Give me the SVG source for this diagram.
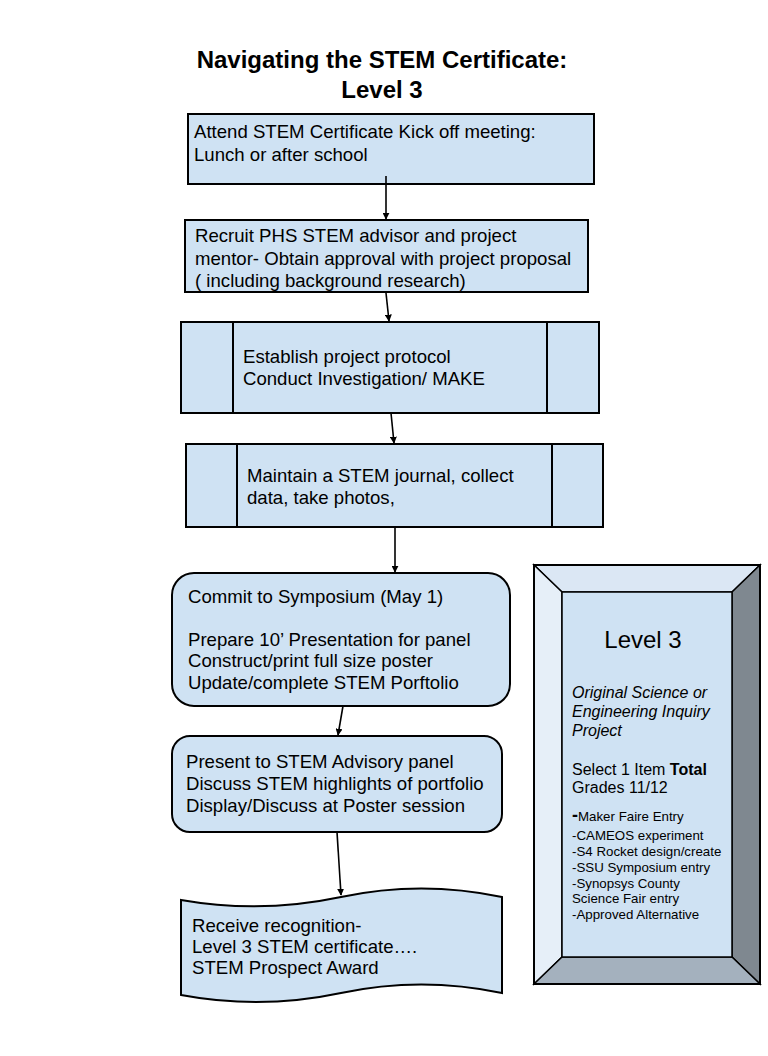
<svg xmlns="http://www.w3.org/2000/svg" width="768" height="1056" viewBox="0 0 768 1056">
<defs>
<marker id="ah" viewBox="0 0 10 10" refX="9" refY="5" markerWidth="7" markerHeight="7" orient="auto" markerUnits="userSpaceOnUse">
<path d="M0,0 L10,5 L0,10 Z" fill="#000"/>
</marker>
<style>
.box{fill:#cfe2f3;stroke:#000;stroke-width:2}
.t{font-family:"Liberation Sans",Arial,sans-serif;font-size:18.6px;fill:#000}
.title{font-family:"Liberation Sans",Arial,sans-serif;font-size:24px;font-weight:bold;fill:#000}
.s{font-family:"Liberation Sans",Arial,sans-serif;font-size:16px;fill:#000}
.xs{font-family:"Liberation Sans",Arial,sans-serif;font-size:13.3px;fill:#000}
.c{stroke:#000;stroke-width:1.6;fill:none;marker-end:url(#ah)}
</style>
</defs>
<rect width="768" height="1056" fill="#fff"/>
<g id="title">
<text class="title" x="382" y="68" text-anchor="middle">Navigating the STEM Certificate:</text>
<text class="title" x="382" y="98" text-anchor="middle">Level 3</text>
</g>
<g id="n1">
<rect class="box" x="188" y="114" width="406" height="70"/>
<text class="t" x="194" y="138">Attend STEM Certificate Kick off meeting:</text>
<text class="t" x="194" y="161">Lunch or after school</text>
</g>
<g id="n2">
<rect class="box" x="185" y="220" width="403" height="72"/>
<text class="t" x="195" y="242">Recruit PHS STEM advisor and project</text>
<text class="t" x="195" y="265">mentor- Obtain approval with project proposal</text>
<text class="t" x="195" y="287">( including background research)</text>
</g>
<g id="n3">
<rect class="box" x="181" y="322" width="418" height="91"/>
<line x1="233" y1="322" x2="233" y2="413" stroke="#000" stroke-width="2"/>
<line x1="547" y1="322" x2="547" y2="413" stroke="#000" stroke-width="2"/>
<text class="t" x="243" y="363">Establish project protocol</text>
<text class="t" x="243" y="385">Conduct Investigation/ MAKE</text>
</g>
<g id="n4">
<rect class="box" x="186" y="444" width="417" height="83"/>
<line x1="237" y1="444" x2="237" y2="527" stroke="#000" stroke-width="2"/>
<line x1="552" y1="444" x2="552" y2="527" stroke="#000" stroke-width="2"/>
<text class="t" x="247" y="482">Maintain a STEM journal, collect</text>
<text class="t" x="247" y="504">data, take photos,</text>
</g>
<g id="n5">
<rect class="box" x="172" y="573" width="338" height="133" rx="22" ry="22"/>
<text class="t" x="188" y="603">Commit to Symposium (May 1)</text>
<text class="t" x="188" y="646">Prepare 10’ Presentation for panel</text>
<text class="t" x="188" y="667">Construct/print full size poster</text>
<text class="t" x="188" y="689">Update/complete STEM Porftolio</text>
</g>
<g id="n6">
<rect class="box" x="172" y="736" width="330" height="96" rx="18" ry="18"/>
<text class="t" x="186" y="768">Present to STEM Advisory panel</text>
<text class="t" x="186" y="790">Discuss STEM highlights of portfolio</text>
<text class="t" x="186" y="812">Display/Discuss at Poster session</text>
</g>
<g id="n7">
<path class="box" d="M181,900 Q261,914 341,897 Q421,880 502,897 L502,993 Q421,976 341,993 Q261,1010 181,995 Z"/>
<text class="t" x="192" y="932">Receive recognition-</text>
<text class="t" x="192" y="953">Level 3 STEM certificate….</text>
<text class="t" x="192" y="974">STEM Prospect Award</text>
</g>
<g id="n8">
<polygon points="534,565 760,565 732,592 562,592" fill="#dbe7f4" stroke="#000" stroke-width="1.5"/>
<polygon points="534,565 562,592 562,957 534,984" fill="#e6eff8" stroke="#000" stroke-width="1.5"/>
<polygon points="760,565 760,984 732,957 732,592" fill="#7f8890" stroke="#000" stroke-width="1.5"/>
<polygon points="534,984 562,957 732,957 760,984" fill="#a4b1be" stroke="#000" stroke-width="1.5"/>
<rect x="562" y="592" width="170" height="365" fill="#cfe2f3" stroke="#000" stroke-width="1.5"/>
<rect x="534" y="565" width="226" height="419" fill="none" stroke="#000" stroke-width="2"/>
<text x="643" y="648" text-anchor="middle" font-family="'Liberation Sans',Arial,sans-serif" font-size="24">Level 3</text>
<text class="s" x="572" y="698" font-style="italic">Original Science or</text>
<text class="s" x="572" y="717" font-style="italic">Engineering Inquiry</text>
<text class="s" x="572" y="736" font-style="italic">Project</text>
<text class="s" x="572" y="775">Select 1 Item <tspan font-weight="bold">Total</tspan></text>
<text class="s" x="572" y="793">Grades 11/12</text>
<text class="xs" x="572" y="821"><tspan font-size="18" font-weight="bold">-</tspan>Maker Faire Entry</text>
<text class="xs" x="572" y="840">-CAMEOS experiment</text>
<text class="xs" x="572" y="856">-S4 Rocket design/create</text>
<text class="xs" x="572" y="872">-SSU Symposium entry</text>
<text class="xs" x="572" y="888">-Synopsys County</text>
<text class="xs" x="572" y="903">Science Fair entry</text>
<text class="xs" x="572" y="919">-Approved Alternative</text>
</g>
<g id="connectors">
<line class="c" x1="386" y1="176" x2="386" y2="219"/>
<line class="c" x1="386" y1="293" x2="389" y2="321"/>
<line class="c" x1="391" y1="413" x2="394" y2="443"/>
<line class="c" x1="395" y1="527" x2="395" y2="572"/>
<line class="c" x1="343" y1="706" x2="338" y2="735"/>
<line class="c" x1="337" y1="832" x2="341" y2="895"/>
</g>
</svg>
